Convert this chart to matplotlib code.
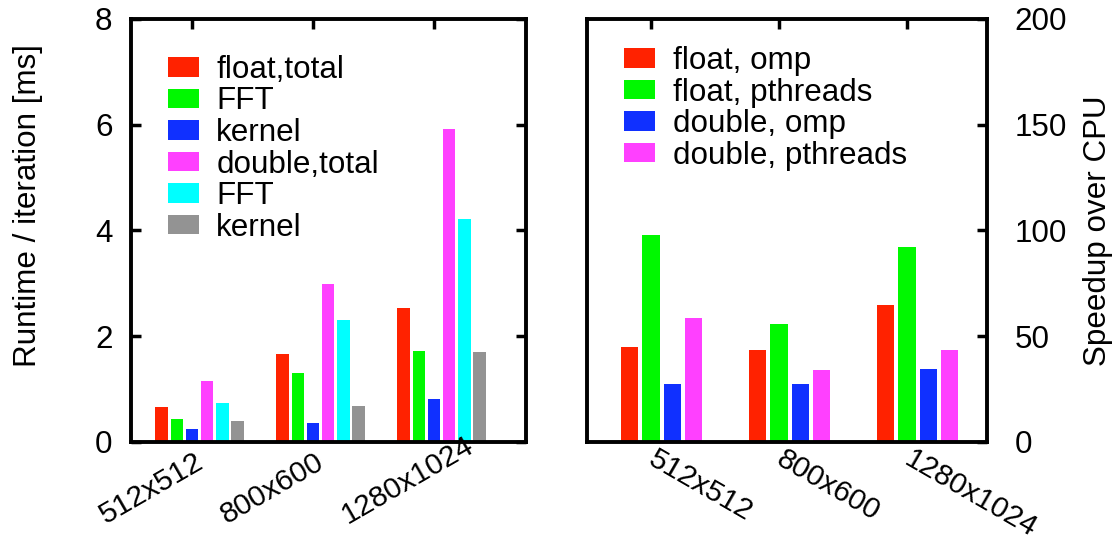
import matplotlib
matplotlib.use("Agg")
import matplotlib.pyplot as plt
import matplotlib.transforms as mtransforms
import numpy as np

plt.rcParams['font.family'] = ['Liberation Sans', 'DejaVu Sans']
plt.rcParams['font.size'] = 22.6

# image sizes (categories)
sizes = ['512x512', '800x600', '1280x1024']

# left panel: runtime per iteration [ms]
runtime_labels = ['float,total', 'FFT', 'kernel', 'double,total', 'FFT', 'kernel']
float_total = [0.66, 1.66, 2.53]
float_fft = [0.43, 1.31, 1.72]
float_kernel = [0.24, 0.36, 0.82]
double_total = [1.15, 2.98, 5.91]
double_fft = [0.74, 2.30, 4.22]
double_kernel = [0.40, 0.69, 1.70]
runtime_colors = ['#ff2200', '#00f800', '#1030ff', '#ff40ff', '#00ffff', '#939393']

# right panel: speedup over CPU
speedup_labels = ['float, omp', 'float, pthreads', 'double, omp', 'double, pthreads']
float_omp = [45.1, 43.5, 64.9]
float_pthreads = [97.9, 55.8, 92.3]
double_omp = [27.3, 27.3, 34.4]
double_pthreads = [58.5, 34.0, 43.5]
speedup_colors = ['#ff2200', '#00f800', '#1030ff', '#ff40ff']

fig = plt.figure(figsize=(11.12, 5.36), dpi=100)
ax1 = fig.add_axes([0.1175, 0.1754, 0.3555, 0.7892])
ax2 = fig.add_axes([0.5279, 0.1754, 0.3597, 0.7892])

x = np.arange(len(sizes))

# ---- left panel ----
runtime_series = [float_total, float_fft, float_kernel, double_total, double_fft, double_kernel]
for j, (vals, col, lab) in enumerate(zip(runtime_series, runtime_colors, runtime_labels)):
    ax1.bar(x + (j - 2) * 0.125, vals, width=0.105, color=col, label=lab)

ax1.set_xlim(-0.507, 2.76)
ax1.set_ylim(0, 8)
ax1.set_yticks([0, 2, 4, 6, 8])
ax1.set_xticks(x)
ax1.set_xticklabels(sizes, rotation=30, ha='left', va='baseline', rotation_mode='anchor',
                    fontsize=21.5)
ax1.tick_params(axis='x', bottom=False, top=True, direction='in', length=7, width=2.5, pad=0)
ax1.tick_params(axis='y', left=True, right=True, direction='in', length=7, width=2.5, pad=13)
offset = mtransforms.ScaledTranslation(-0.86, -0.82, fig.dpi_scale_trans)
for lbl in ax1.get_xticklabels():
    lbl.set_transform(lbl.get_transform() + offset)
ax1.set_ylabel('Runtime / iteration [ms]')
ax1.yaxis.set_label_coords(-0.222, 0.56)
ax1.legend(loc='upper left', bbox_to_anchor=(0.0936, 0.915), frameon=False,
           borderpad=0, borderaxespad=0, handlelength=1.0, handleheight=0.58,
           handletextpad=0.55, labelspacing=0.05)

# ---- right panel ----
speedup_series = [float_omp, float_pthreads, double_omp, double_pthreads]
for j, (vals, col, lab) in enumerate(zip(speedup_series, speedup_colors, speedup_labels)):
    ax2.bar(x + (j - 1) / 6, vals, width=0.135, color=col, label=lab)

ax2.set_xlim(-0.5, 2.625)
ax2.set_ylim(0, 200)
ax2.set_yticks([0, 50, 100, 150, 200])
ax2.set_xticks(x)
ax2.set_xticklabels(sizes, rotation=-30, ha='left', va='top', rotation_mode='anchor',
                    fontsize=21.5)
ax2.tick_params(axis='x', bottom=False, top=True, direction='in', length=7, width=2.5, pad=3)
ax2.tick_params(axis='y', left=False, right=True, labelleft=False, labelright=True,
                direction='in', length=7, width=2.5, pad=20)
offset2 = mtransforms.ScaledTranslation(0.07, 0.01, fig.dpi_scale_trans)
for lbl in ax2.get_xticklabels():
    lbl.set_transform(lbl.get_transform() + offset2)
ax2.yaxis.set_label_position('right')
ax2.set_ylabel('Speedup over CPU')
ax2.yaxis.set_label_coords(1.24, 0.5)
ax2.legend(loc='upper left', bbox_to_anchor=(0.0925, 0.936), frameon=False,
           borderpad=0, borderaxespad=0, handlelength=1.0, handleheight=0.58,
           handletextpad=0.55, labelspacing=0.05)

for ax in (ax1, ax2):
    for sp in ax.spines.values():
        sp.set_linewidth(2.8)

fig.savefig('out.png', dpi=100)
